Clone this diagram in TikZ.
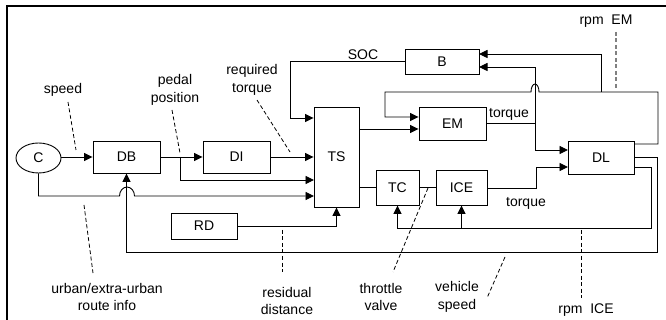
\documentclass[tikz,border=0pt]{standalone}
\usepackage{fontspec}
\setmainfont{Liberation Sans}
\usetikzlibrary{arrows.meta,shapes.geometric}
\begin{document}
\begin{tikzpicture}[x=1pt,y=-1pt,
  every node/.style={font=\fontsize{14}{17.5}\selectfont},
  box/.style={draw,line width=0.9pt,inner sep=0pt},
  conn/.style={line width=0.9pt},
  arr/.style={conn,-{Triangle[length=8.5pt,width=8pt]}},
  dsh/.style={line width=0.8pt,dash pattern=on 4pt off 2.5pt},
  lbl/.style={align=center,inner sep=0pt}
]
\useasboundingbox (0,0) rectangle (666,320);
% frame
\draw[line width=1.6pt] (7,325) -- (7,6) -- (670,6);

% blocks
\node[box,ellipse,minimum width=45pt,minimum height=30pt] (C) at (38.5,158) {C};
\node[box,minimum width=67pt,minimum height=32pt] (DB) at (126.5,157) {DB};
\node[box,minimum width=67pt,minimum height=32pt] (DI) at (236.5,157) {DI};
\node[box,minimum width=45pt,minimum height=100pt] (TS) at (336.5,157) {TS};
\node[box,minimum width=74pt,minimum height=25pt] (B) at (442,61.5) {B};
\node[box,minimum width=67pt,minimum height=33pt] (EM) at (452.5,123.5) {EM};
\node[box,minimum width=66pt,minimum height=33pt] (DL) at (601,157.5) {DL};
\node[box,minimum width=43pt,minimum height=35pt] (TC) at (397.5,187.5) {TC};
\node[box,minimum width=51pt,minimum height=35pt] (ICE) at (461.5,187.5) {ICE};
\node[box,minimum width=66pt,minimum height=26pt] (RD) at (204,226) {RD};

% helper coordinates
\coordinate (b1) at (180,157);
\coordinate (ts3) at (314,180);
\coordinate (ts4) at (314,196);
\coordinate (soc) at (290,118);
\coordinate (em1) at (385,117);
\coordinate (em2) at (359,129);
\coordinate (tq) at (535,123);
\coordinate (b2) at (479,67);
\coordinate (b3) at (479,54);
\coordinate (dl1) at (568,150);
\coordinate (dl2) at (568,167);
\coordinate (ice1) at (536,188);
\coordinate (loopR) at (658,92);
\coordinate (tap) at (601,92);
\coordinate (o1) at (634,144);
\coordinate (o2) at (634,157);
\coordinate (o3) at (634,167);
\coordinate (cl) at (38.5,196);

% connectors
\draw[arr] (C.east |- DB.west) -- (DB.west);
\draw[arr] (DB.east) -- (DI.west);
\draw[arr] (b1) |- (ts3);
\draw[arr] (DI.east) -- (DI.east -| TS.west);
\draw[arr] (B.west) -| (soc) -- (soc -| TS.west);
\draw[arr] (em2) -- (em2 -| EM.west);
% top loop with jump
\draw[arr] (o1) -| (loopR) -- (539,92)
   arc[start angle=0,end angle=180,x radius=4pt,y radius=8pt]
   -- (em1 |- loopR) -- (em1) -- (em1 -| EM.west);
\draw[arr] (tap) |- (b3);
% EM torque
\draw[conn] (EM.east |- tq) -- (tq);
\draw[arr] (tq) |- (b2);
\draw[arr] (tq) |- (dl1);
% ICE torque
\draw[arr] (ICE.east |- ice1) -- (ice1) |- (dl2);
% TS - TC - ICE
\draw[conn] (TS.east |- TC.west) -- (TC.west);
\draw[conn] (TC.east) -- (ICE.west);
% DL outputs
\draw[arr] (o2) -- (657,157) -- (657,252) -| (DB.south);
\draw[arr] (o3) -- (651,167) -- (651,228) -| (TC.south);
\draw[arr] (ICE.south |- 0,228) -- (ICE.south);
% RD
\draw[arr] (RD.east) -| (TS.south);
% C line with jump
\draw[arr] (C.south) -- (cl) -- (119.5,196)
   arc[start angle=180,end angle=0,x radius=7.5pt,y radius=9pt]
   -- (ts4);

% labels
\node[lbl] (Lspeed) at (63,90) {speed};
\node[lbl] (Lpedal) at (175,90) {pedal\\position};
\node[lbl] (Lreq) at (252,80) {required\\torque};
\node[lbl,anchor=south] (Lsoc) at (363,60) {SOC};
\node[lbl] (Lrpmem) at (606,21) {rpm\ \ EM};
\node[lbl,anchor=south] (Ltq1) at (509,121) {torque};
\node[lbl] (Ltq2) at (526,203) {torque};
\node[lbl] (Lurban) at (107,297) {urban/extra-urban\\route info};
\node[lbl] (Lres) at (287,301) {residual\\distance};
\node[lbl] (Lthr) at (381,297) {throttle\\valve};
\node[lbl] (Lveh) at (457,297) {vehicle\\speed};
\node[lbl] (Lrpmice) at (586,310) {rpm\ \ ICE};

% dashed annotation lines
\coordinate (d1a) at (68,102);  \coordinate (d1b) at (76,150);
\coordinate (d2a) at (172,110); \coordinate (d2b) at (180,153);
\coordinate (d3a) at (257,100); \coordinate (d3b) at (290,152);
\coordinate (d4a) at (616,32);  \coordinate (d4b) at (616,90);
\coordinate (d5a) at (84,205);  \coordinate (d5b) at (93,273);
\coordinate (d6a) at (282,230); \coordinate (d6b) at (282,272);
\coordinate (d7a) at (428,188); \coordinate (d7b) at (393,272);
\coordinate (d8a) at (505,257); \coordinate (d8b) at (487,298);
\coordinate (d9a) at (581,230); \coordinate (d9b) at (581,298);
\draw[dsh] (d1a) -- (d1b);
\draw[dsh] (d2a) -- (d2b);
\draw[dsh] (d3a) -- (d3b);
\draw[dsh,gray,line width=1.2pt] (d4a) -- (d4b);
\draw[dsh] (d5a) -- (d5b);
\draw[dsh] (d6a) -- (d6b);
\draw[dsh] (d7a) -- (d7b);
\draw[dsh] (d8a) -- (d8b);
\draw[dsh] (d9a) -- (d9b);
\end{tikzpicture}
\end{document}
